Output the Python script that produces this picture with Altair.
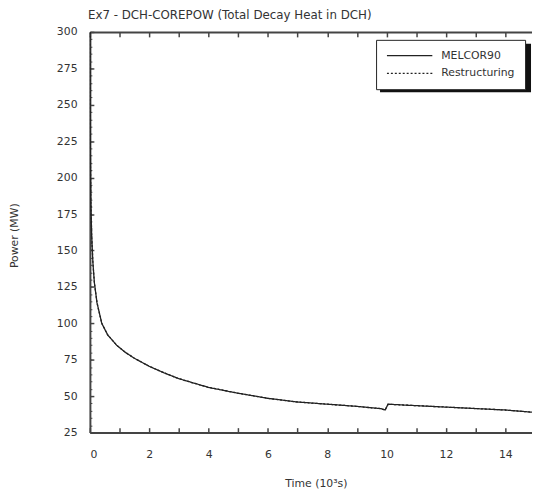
import altair as alt
import pandas as pd

# ---- data ----
time_k = [0, 0.01, 0.03, 0.06, 0.1, 0.15, 0.24, 0.4, 0.6, 0.9, 1.2, 1.5, 2.0, 2.5,
          3.0, 3.5, 4.0, 4.5, 5.0, 6.0, 7.0, 8.0, 9.0, 9.5, 9.8, 9.95, 10.05, 10.5,
          11.0, 12.0, 13.0, 14.0, 14.9]
melcor90 = [300, 230, 185, 160, 142, 128, 114, 100, 92, 85, 80, 76, 70.5, 66,
            62, 59, 56, 54, 52, 48.5, 46, 44.5, 43, 42, 41.5, 40.5, 44.5, 44,
            43.5, 42.5, 41.5, 40.5, 39]
restructuring = [300, 230, 185, 160, 142, 128, 114, 100, 92, 85, 80, 76, 70.5, 66,
                 62, 59, 56, 54, 52, 48.5, 46, 44.5, 43, 42, 41.5, 40.5, 44.5, 44,
                 43.5, 42.5, 41.5, 40.5, 39]
series_names = ["MELCOR90", "Restructuring"]
x_tick_values = list(range(0, 15))
x_label_values = list(range(0, 15, 2))
y_label_values = list(range(25, 301, 25))
y_minor_values = list(range(25, 301, 5))

df = pd.DataFrame({
    "t": time_k + time_k,
    "p": melcor90 + restructuring,
    "s": [series_names[0]] * len(time_k) + [series_names[1]] * len(time_k),
})

FONT = "DejaVu Sans"
TC = "#333333"
AX = "#444444"
X_DOM = [0, 14.9]
Y_DOM = [25, 300]


def xs():
    return alt.Scale(domain=X_DOM, nice=False, zero=False)


def ys():
    return alt.Scale(domain=Y_DOM, nice=False, zero=False)


base = alt.Chart(df)

lines = base.mark_line(strokeWidth=1.3, clip=True).encode(
    x=alt.X("t:Q", scale=xs(), axis=alt.Axis(
        orient="bottom", values=x_label_values, title="Time (10³s)", ticks=False,
        grid=False, domainColor=AX, domainWidth=2, labelPadding=16,
        labelFontSize=11, labelColor=TC, labelFont=FONT,
        titleFont=FONT, titleFontSize=11, titleColor=TC, titleFontWeight="normal",
        titleX=229, titleY=52, titleBaseline="middle")),
    y=alt.Y("p:Q", scale=ys(), axis=alt.Axis(
        orient="left", values=y_label_values, title="Power (MW)", ticks=False,
        grid=False, domainColor=AX, domainWidth=2, labelPadding=13,
        labelFontSize=11, labelColor=TC, labelFont=FONT,
        titleFont=FONT, titleFontSize=11, titleColor=TC, titleFontWeight="normal",
        titleX=-76, titleY=206, titleAngle=270, titleBaseline="middle")),
    color=alt.Color("s:N", scale=alt.Scale(domain=series_names, range=["#222222", "#222222"]),
                    legend=alt.Legend(title=None)),
    strokeDash=alt.StrokeDash("s:N", scale=alt.Scale(domain=series_names, range=[[1, 0], [2, 2]]),
                              legend=alt.Legend(title=None)),
)

ticks_a = base.mark_line(opacity=0).encode(
    x=alt.X("t:Q", scale=xs(), axis=alt.Axis(
        orient="bottom", offset=-5, values=x_tick_values, tickSize=5, tickColor=AX,
        tickWidth=1.5, labels=False, domain=False, grid=False, title=None)),
    y=alt.Y("p:Q", scale=ys(), axis=alt.Axis(
        orient="left", offset=-4, values=y_label_values, tickSize=4, tickColor=AX,
        tickWidth=1.5, labels=False, domain=False, grid=False, title=None)),
)

ticks_b = base.mark_line(opacity=0).encode(
    x=alt.X("t:Q", scale=xs(), axis=alt.Axis(
        orient="top", ticks=False, labels=False, domain=True, domainColor=AX,
        domainWidth=2, grid=False, title=None)),
    y=alt.Y("p:Q", scale=ys(), axis=alt.Axis(
        orient="left", offset=-2, values=y_minor_values, tickSize=2, tickColor=AX,
        tickWidth=1, labels=False, domain=False, grid=False, title=None)),
)

ticks_c = base.mark_line(opacity=0).encode(
    x=alt.X("t:Q", scale=xs(), axis=alt.Axis(
        orient="top", offset=-5, values=x_tick_values, tickSize=5, tickColor=AX,
        tickWidth=1.5, labels=False, domain=False, grid=False, title=None)),
    y=alt.Y("p:Q", scale=ys(), axis=None),
)

shadow = alt.Chart(pd.DataFrame({"a": [0]})).mark_rect(color="#111111").encode(
    x=alt.value(294), x2=alt.value(447), y=alt.value(12), y2=alt.value(61)
)

chart = alt.layer(shadow, lines, ticks_a, ticks_b, ticks_c).resolve_scale(
    x="independent", y="independent"
).properties(
    width=448, height=406,
    autosize=alt.AutoSizeParams(type="none"),
    padding={"left": 83, "top": 21, "right": 0, "bottom": 62},
    title=alt.TitleParams("Ex7 - DCH-COREPOW (Total Decay Heat in DCH)", anchor="start",
                          frame="group", fontSize=12, font=FONT, fontWeight="normal",
                          color=TC, offset=4, dx=-2),
).configure_view(stroke=None).configure_legend(
    orient="none", legendX=290, legendY=8, fillColor="white", strokeColor="#222222",
    padding=10, symbolType="stroke", symbolSize=2116, symbolStrokeWidth=1.3,
    symbolStrokeColor="#222222", labelOffset=8, labelFontSize=11, labelFont=FONT,
    labelColor=TC, clipHeight=12, rowPadding=6,
)

chart.save("out.html", embed_options={"renderer": "svg", "actions": False})
